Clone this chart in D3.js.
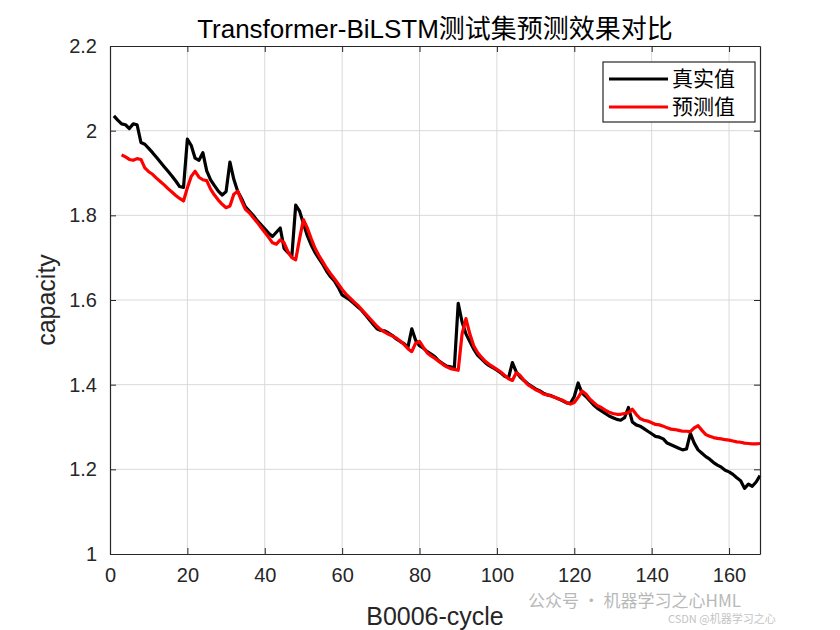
<!DOCTYPE html>
<html>
<head>
<meta charset="utf-8">
<script src="https://cdn.jsdelivr.net/npm/d3@7"></script>
<style>
  body { margin: 0; background: #fff; }
  svg text { font-family: "Liberation Sans", Arial, "Noto Sans CJK SC", sans-serif; }
</style>
</head>
<body>
<svg id="chart" width="840" height="630"></svg>
<script>
// capacity values, one per cycle
var trueStart = 1;
var trueValues = [
  2.035, 2.025, 2.016, 2.014, 2.005, 2.016, 2.014, 1.972, 1.968, 1.958,
  1.948, 1.937, 1.926, 1.915, 1.904, 1.893, 1.881, 1.868, 1.866, 1.980,
  1.965, 1.935, 1.930, 1.948, 1.905, 1.884, 1.870, 1.857, 1.848, 1.856,
  1.926, 1.885, 1.857, 1.840, 1.820, 1.810, 1.800, 1.788, 1.778, 1.768,
  1.758, 1.750, 1.760, 1.770, 1.722, 1.712, 1.703, 1.824, 1.810, 1.780,
  1.752, 1.730, 1.712, 1.698, 1.684, 1.668, 1.655, 1.645, 1.630, 1.612,
  1.606, 1.600, 1.592, 1.584, 1.576, 1.565, 1.554, 1.543, 1.532, 1.528,
  1.527, 1.522, 1.516, 1.508, 1.502, 1.497, 1.488, 1.532, 1.505, 1.492,
  1.486, 1.478, 1.472, 1.466, 1.456, 1.450, 1.444, 1.442, 1.440, 1.592,
  1.548, 1.520, 1.502, 1.484, 1.470, 1.461, 1.452, 1.445, 1.440, 1.434,
  1.428, 1.420, 1.416, 1.452, 1.430, 1.418, 1.410, 1.402, 1.396, 1.390,
  1.386, 1.380, 1.376, 1.374, 1.370, 1.366, 1.362, 1.357, 1.356, 1.372,
  1.404, 1.380, 1.372, 1.362, 1.352, 1.344, 1.338, 1.332, 1.326, 1.322,
  1.318, 1.316, 1.322, 1.346, 1.312, 1.305, 1.302, 1.296, 1.290, 1.284,
  1.278, 1.276, 1.272, 1.262, 1.258, 1.254, 1.250, 1.246, 1.248, 1.285,
  1.262, 1.246, 1.238, 1.230, 1.224, 1.216, 1.210, 1.205, 1.198, 1.194,
  1.188, 1.180, 1.173, 1.155, 1.165, 1.160, 1.170, 1.185
];
var predStart = 3;
var predValues = [
  1.943, 1.938, 1.932, 1.930, 1.934, 1.932, 1.912, 1.903, 1.897, 1.888,
  1.880, 1.872, 1.863, 1.855, 1.847, 1.840, 1.834, 1.865, 1.892, 1.904,
  1.890, 1.884, 1.882, 1.862, 1.848, 1.836, 1.826, 1.818, 1.822, 1.850,
  1.857, 1.834, 1.814, 1.806, 1.795, 1.784, 1.772, 1.760, 1.748, 1.735,
  1.732, 1.742, 1.735, 1.714, 1.700, 1.695, 1.745, 1.790, 1.770, 1.745,
  1.722, 1.705, 1.690, 1.675, 1.662, 1.650, 1.638, 1.625, 1.614, 1.605,
  1.596, 1.588, 1.578, 1.568, 1.558, 1.548, 1.538, 1.530, 1.524, 1.519,
  1.515, 1.510, 1.503, 1.495, 1.485, 1.478, 1.498, 1.502, 1.488, 1.475,
  1.468, 1.462, 1.455, 1.448, 1.442, 1.438, 1.436, 1.434, 1.520, 1.556,
  1.520, 1.492, 1.476, 1.465, 1.455, 1.448, 1.442, 1.436, 1.430, 1.422,
  1.414, 1.410, 1.428, 1.422, 1.410, 1.400, 1.394, 1.388, 1.384, 1.378,
  1.376, 1.373, 1.370, 1.366, 1.363, 1.358, 1.354, 1.358, 1.370, 1.385,
  1.378, 1.366, 1.358, 1.350, 1.346, 1.340, 1.335, 1.332, 1.330, 1.330,
  1.332, 1.334, 1.342, 1.330, 1.320, 1.316, 1.314, 1.310, 1.306, 1.305,
  1.302, 1.298, 1.295, 1.294, 1.292, 1.290, 1.290, 1.289, 1.298, 1.303,
  1.292, 1.282, 1.278, 1.275, 1.273, 1.272, 1.270, 1.269, 1.267, 1.265,
  1.264, 1.262, 1.261, 1.260, 1.260, 1.261
];
var xTicks = [0, 20, 40, 60, 80, 100, 120, 140, 160];
var yTicks = [1, 1.2, 1.4, 1.6, 1.8, 2, 2.2];
var seriesNames = ["真实值", "预测值"];
var seriesColors = ["#000000", "#ff0000"];

var plotLeft = 110, plotRight = 760, plotTop = 46, plotBottom = 554;

var svg = d3.select("#chart");

var x = d3.scaleLinear().domain([0, 168]).range([plotLeft, plotRight]);
var y = d3.scaleLinear().domain([1, 2.2]).range([plotBottom, plotTop]);

/* grid */
svg.append("g")
  .selectAll("line")
  .data(xTicks.slice(1))
  .enter()
  .append("line")
  .attr("x1", (d) => x(d))
  .attr("x2", (d) => x(d))
  .attr("y1", plotTop)
  .attr("y2", plotBottom)
  .attr("stroke", "#d9d9d9")
  .attr("stroke-width", 1);
svg.append("g")
  .selectAll("line")
  .data(yTicks.slice(1, -1))
  .enter()
  .append("line")
  .attr("x1", plotLeft)
  .attr("x2", plotRight)
  .attr("y1", (d) => y(d))
  .attr("y2", (d) => y(d))
  .attr("stroke", "#d9d9d9")
  .attr("stroke-width", 1);

/* lines */
var trueData = trueValues.map((v, i) => [trueStart + i, v]);
var predData = predValues.map((v, i) => [predStart + i, v]);
var line = d3.line()
  .x((d) => x(d[0]))
  .y((d) => y(d[1]));

svg.append("path")
  .datum(trueData)
  .attr("d", line)
  .attr("fill", "none")
  .attr("stroke", seriesColors[0])
  .attr("stroke-width", 3.2)
  .attr("stroke-linejoin", "round");
svg.append("path")
  .datum(predData)
  .attr("d", line)
  .attr("fill", "none")
  .attr("stroke", seriesColors[1])
  .attr("stroke-width", 3.2)
  .attr("stroke-linejoin", "round");

/* axes, ticks pointing inward */
var axisColor = "#262626";
var styleAxis = (g) => {
  g.selectAll("path").attr("stroke", axisColor).attr("stroke-width", 1.2);
  g.selectAll("line").attr("stroke", axisColor);
  g.selectAll("text").attr("fill", axisColor).style("font-size", "20px");
};

svg.append("g")
  .attr("transform", "translate(0," + plotBottom + ")")
  .call(d3.axisBottom(x).tickValues(xTicks).tickSizeInner(-6).tickSizeOuter(0).tickPadding(14))
  .call(styleAxis);
svg.append("g")
  .attr("transform", "translate(0," + plotTop + ")")
  .call(d3.axisTop(x).tickValues(xTicks).tickSizeInner(-6).tickSizeOuter(0).tickFormat(""))
  .call(styleAxis);
svg.append("g")
  .attr("transform", "translate(" + plotLeft + ",0)")
  .call(d3.axisLeft(y).tickValues(yTicks).tickSizeInner(-6).tickSizeOuter(0).tickPadding(13).tickFormat(d3.format("")))
  .call(styleAxis);
svg.append("g")
  .attr("transform", "translate(" + plotRight + ",0)")
  .call(d3.axisRight(y).tickValues(yTicks).tickSizeInner(-6).tickSizeOuter(0).tickFormat(""))
  .call(styleAxis);

/* title and labels */
svg.append("text")
  .attr("x", (plotLeft + plotRight) / 2)
  .attr("y", 38)
  .attr("text-anchor", "middle")
  .style("font-size", "26px")
  .attr("fill", "#000")
  .text("Transformer-BiLSTM测试集预测效果对比");
svg.append("text")
  .attr("x", (plotLeft + plotRight) / 2)
  .attr("y", 625)
  .attr("text-anchor", "middle")
  .style("font-size", "25px")
  .attr("fill", axisColor)
  .text("B0006-cycle");
svg.append("text")
  .attr("transform", "translate(55," + (plotTop + plotBottom) / 2 + ") rotate(-90)")
  .attr("text-anchor", "middle")
  .style("font-size", "25px")
  .attr("fill", axisColor)
  .text("capacity");

/* legend */
var legend = svg.append("g").attr("transform", "translate(603,62)");
legend.append("rect")
  .attr("width", 152)
  .attr("height", 60)
  .attr("fill", "#fff")
  .attr("stroke", axisColor)
  .attr("stroke-width", 1.2);
seriesNames.forEach((name, i) => {
  legend.append("line")
    .attr("x1", 6)
    .attr("x2", 65)
    .attr("y1", 17 + i * 28)
    .attr("y2", 17 + i * 28)
    .attr("stroke", seriesColors[i])
    .attr("stroke-width", 3.2);
  legend.append("text")
    .attr("x", 69)
    .attr("y", 24 + i * 28)
    .style("font-size", "21px")
    .style("font-family", "'Noto Sans CJK SC', sans-serif")
    .attr("fill", "#000")
    .text(name);
});

/* watermark */
svg.append("text")
  .attr("x", 528)
  .attr("y", 607)
  .style("font-size", "17px")
  .style("font-family", "'Noto Sans CJK SC', sans-serif")
  .attr("fill", "#b8b8b8")
  .text("公众号 · 机器学习之心HML");
svg.append("text")
  .attr("x", 668)
  .attr("y", 623)
  .style("font-size", "11px")
  .style("font-family", "'Noto Sans CJK SC', sans-serif")
  .attr("fill", "#c4c4c4")
  .text("CSDN @机器学习之心");
</script>
</body>
</html>
